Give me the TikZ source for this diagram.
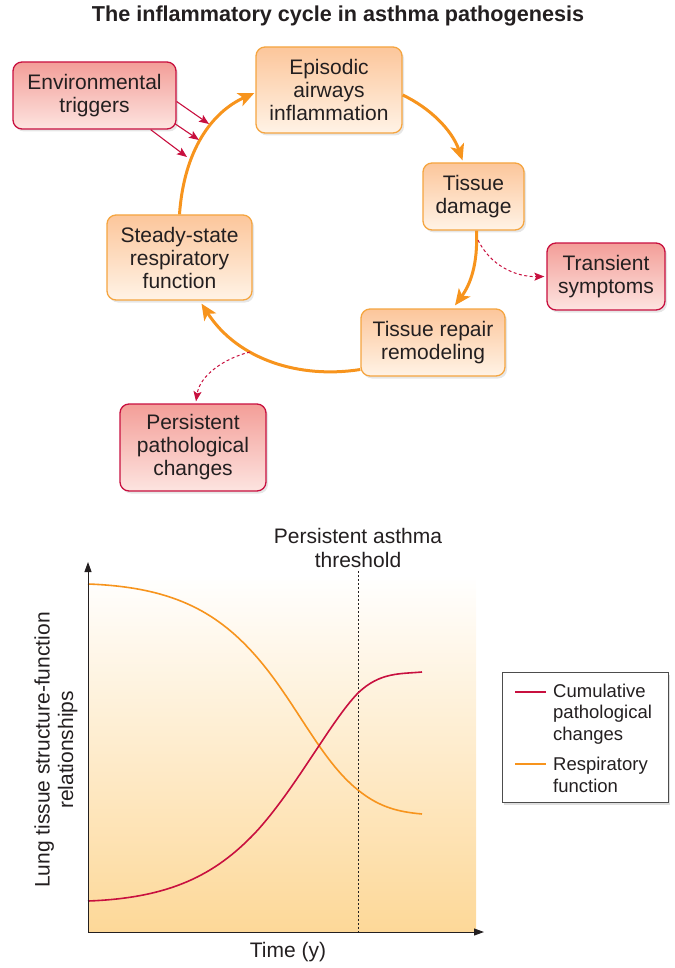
\documentclass[tikz,border=0pt]{standalone}
\usepackage{fontspec}
\setmainfont{Liberation Sans}
\usetikzlibrary{arrows.meta,shadows,calc}

\definecolor{ink}{HTML}{231F20}
\definecolor{cycorange}{HTML}{F7941D}
\definecolor{boxorange}{HTML}{F5A540}
\definecolor{otop}{HTML}{FCC69B}
\definecolor{obot}{HTML}{FFF3E6}
\definecolor{crim}{HTML}{C8103F}
\definecolor{rtop}{HTML}{F39E98}
\definecolor{rbot}{HTML}{FDE4E0}
\definecolor{bgbot}{HTML}{FDD898}
\definecolor{legframe}{HTML}{4D4D4D}

\tikzset{
  cyclebox/.style={rounded corners=9pt, line width=1.3pt, align=center, text=ink,
    font=\fontsize{21}{23}\selectfont, inner sep=0pt,
    drop shadow={shadow xshift=2pt, shadow yshift=-2.5pt, opacity=0.2}},
  obox/.style={cyclebox, draw=boxorange, top color=otop, bottom color=obot},
  rbox/.style={cyclebox, draw=crim, top color=rtop, bottom color=rbot},
  flow/.style={draw=cycorange, line width=3pt, -{Stealth[length=16pt,width=14pt,inset=4pt]}},
  hint/.style={draw=crim, line width=1pt, dash pattern=on 3pt off 2.5pt,
    -{Stealth[length=10pt,width=8pt,inset=2pt]}},
  trig/.style={draw=crim, line width=1.1pt, -{Stealth[length=10pt,width=8pt,inset=2pt]}},
  label/.style={text=ink, font=\fontsize{21}{23.5}\selectfont, align=center},
  legtext/.style={text=ink, font=\fontsize{18.5}{21.5}\selectfont, align=left, anchor=west, inner sep=0pt},
  curve/.style={line width=1.6pt},
  axis/.style={draw=ink, line width=1pt, -{Triangle[length=10pt,width=7pt]}}
}

\begin{document}
\begin{tikzpicture}[x=1pt, y=-1pt]
  \useasboundingbox (0,0) rectangle (674,968);

  % title
  \node[text=ink, font=\bfseries\fontsize{21.6}{25}\selectfont] (title) at (338,16)
    {The inflammatory cycle in asthma pathogenesis};

  % cycle boxes
  \node[rbox, minimum width=163pt, minimum height=67pt] (env) at (94.5,95.5)
    {Environmental\\triggers};
  \node[obox, minimum width=146pt, minimum height=86pt] (epi) at (329,90)
    {Episodic\\airways\\inflammation};
  \node[obox, minimum width=101pt, minimum height=67pt] (dmg) at (473.5,196.5)
    {Tissue\\damage};
  \node[rbox, minimum width=118pt, minimum height=67pt] (trans) at (606,276.5)
    {Transient\\symptoms};
  \node[obox, minimum width=144pt, minimum height=67pt] (rep) at (433,342.5)
    {Tissue repair\\remodeling};
  \node[obox, minimum width=145pt, minimum height=85pt] (steady) at (179.5,257.5)
    {Steady-state\\respiratory\\function};
  \node[rbox, minimum width=146pt, minimum height=87pt] (pers) at (193,447.5)
    {Persistent\\pathological\\changes};

  % the cycle
  \draw[flow] (steady.north) .. controls (184,150) and (212,112) .. ($(epi.west)+(-1,3)$);
  \draw[flow] ($(epi.east)+(0,5)$) .. controls (430,108) and (452,130) .. ($(dmg.north)+(-11,-2)$);
  \draw[flow] ($(dmg.south)+(3,0)$) .. controls (478,265) and (470,285) .. ($(rep.north)+(22,-3)$);
  \draw[flow] ($(rep.west)+(0,27)$) .. controls (300,379) and (238,360) .. ($(steady.south)+(22,3)$);

  % side effects of the cycle
  \coordinate (dmgout) at (478,240);
  \coordinate (repout) at (250,352);
  \draw[hint] (dmgout) .. controls (490,265) and (515,277) .. ($(trans.west)+(-2,0)$);
  \draw[hint] (repout) .. controls (225,358) and (200,375) .. ($(pers.north)+(3,-2)$);

  % triggers acting on the cycle
  \coordinate (t1) at (209,124);
  \coordinate (t2) at (199,140);
  \coordinate (t3) at (187,157);
  \draw[trig] ($(env.east)+(0,6)$) -- (t1);
  \draw[trig] ($(env.east)+(-2,28)$) -- (t2);
  \draw[trig] ($(env.south east)+(-26,0)$) -- (t3);

  % chart background and axes
  \shade[top color=white, bottom color=bgbot] (88,575) rectangle (476,932);
  \coordinate (origin) at (88,932);
  \coordinate (ytop) at (88,562);
  \coordinate (xend) at (484,932);

  % threshold marker
  \node[label] (thr) at (358,548) {Persistent asthma\\threshold};
  \coordinate (thrbase) at (358,932);
  \draw[ink, line width=0.7pt, dash pattern=on 2pt off 2pt] (thr.south) -- (thrbase);

  % curves
  \draw[cycorange, curve] (88,584) .. controls (170,587) and (215,610) .. (255,655)
    .. controls (295,700) and (320,760) .. (358,790)
    .. controls (380,808) and (400,812) .. (422,814);
  \draw[crim, curve] (88,901) .. controls (170,898) and (215,875) .. (255,833)
    .. controls (295,790) and (330,722) .. (358,693)
    .. controls (380,672) and (400,674) .. (422,672);

  \draw[axis] (origin) -- (ytop);
  \draw[axis] (origin) -- (xend);

  % axis titles
  \node[label, rotate=90] (ylab) at (56,750) {Lung tissue structure-function\\relationships};
  \node[label] (xlab) at (288,952) {Time (y)};

  % legend
  \node[draw=legframe, line width=0.8pt, fill=white, minimum width=166pt, minimum height=130pt,
    drop shadow={shadow xshift=2pt, shadow yshift=-2.5pt, opacity=0.25}] (legend) at (585,737) {};
  \draw[crim, curve] (515,692) -- (546,692);
  \draw[cycorange, curve] (515,764) -- (546,764);
  \node[legtext] (legA) at (553,714) {Cumulative\\pathological\\changes};
  \node[legtext] (legB) at (553,775) {Respiratory\\function};
\end{tikzpicture}
\end{document}
